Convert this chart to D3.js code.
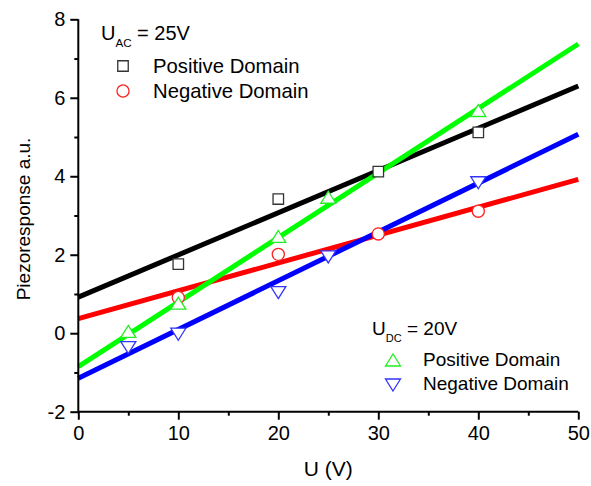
<!DOCTYPE html>
<html><head><meta charset="utf-8">
<script src="https://cdnjs.cloudflare.com/ajax/libs/d3/7.8.5/d3.min.js"></script>
<style>body{margin:0;background:#fff}svg{display:block;font-family:Arial,"Liberation Sans",sans-serif}</style>
</head><body><svg id="c" width="591" height="486"></svg>
<script>
// Data
const xTicks = [0, 10, 20, 30, 40, 50];
const yTicks = [-2, 0, 2, 4, 6, 8];
const acPosX = [10, 20, 30, 40];
const acPosY = [1.76, 3.42, 4.12, 5.12];
const acNegX = [10, 20, 30, 40];
const acNegY = [0.91, 2.01, 2.53, 3.11];
const dcPosX = [5, 10, 20, 25, 40];
const dcPosY = [0.02, 0.74, 2.44, 3.44, 5.65];
const dcNegX = [5, 10, 20, 25, 40];
const dcNegY = [-0.34, 0.0, 1.06, 1.97, 3.86];
// linear fit lines: intercept, slope
const fitIntercepts = [0.92, 0.37, -0.85, -1.15];
const fitSlopes = [0.1076, 0.071, 0.1644, 0.1244];
const seriesNames = ["AC positive", "AC negative", "DC positive", "DC negative"];
const colors = ["#000000", "#ff0000", "#00ff00", "#0000ff"];
const markerStroke = ["#333333", "#ff2020", "#22ee22", "#3333ff"];

const svg = d3.select("#c");
const x = d3.scaleLinear().domain([0, 50]).range([78.3, 578.3]);
const y = d3.scaleLinear().domain([-2, 8]).range([411.7, 19.3]);

// fit lines
const lineGen = d3.line().x(d => x(d[0])).y(d => y(d[1]));
fitIntercepts.forEach((b, i) => {
  const pts = [0, 50].map(u => [u, b + fitSlopes[i] * u]);
  svg.append("path").attr("d", lineGen(pts)).attr("fill", "none")
    .attr("stroke", colors[i]).attr("stroke-width", 5);
});

// markers
const symSquare = d3.symbol().type(d3.symbolSquare).size(110)();
const symCircle = d3.symbol().type(d3.symbolCircle).size(115)();
const triUp = "M0,-7L7.5,5L-7.5,5Z";
const triDown = "M0,7L7.5,-5L-7.5,-5Z";
const sets = [[acPosX, acPosY, symSquare], [acNegX, acNegY, symCircle], [dcPosX, dcPosY, triUp], [dcNegX, dcNegY, triDown]];
sets.forEach((s, i) => {
  svg.append("g").selectAll("path").data(s[0].map((v, k) => [v, s[1][k]])).join("path")
    .attr("d", s[2]).attr("transform", d => `translate(${x(d[0])},${y(d[1])})`)
    .attr("fill", "#fff").attr("stroke", markerStroke[i]).attr("stroke-width", 1.3);
});

// axes
const fmt = d => String(d);
const xAxis = d3.axisBottom(x).tickValues(xTicks).tickSize(8).tickPadding(6).tickFormat(fmt);
const gx = svg.append("g").attr("transform", `translate(0,${y(-2)})`).call(xAxis);
svg.append("g").attr("transform", `translate(0,${y(-2)})`)
  .call(d3.axisBottom(x).tickValues(d3.range(5, 50, 10)).tickSize(4).tickFormat(""))
  .call(g => g.select(".domain").remove());
const yAxis = d3.axisLeft(y).tickValues(yTicks).tickSize(8).tickPadding(5).tickFormat(fmt);
const gy = svg.append("g").attr("transform", `translate(${x(0)},0)`).call(yAxis);
svg.append("g").attr("transform", `translate(${x(0)},0)`)
  .call(d3.axisLeft(y).tickValues(d3.range(-1, 8, 2)).tickSize(4).tickFormat(""))
  .call(g => g.select(".domain").remove());
svg.selectAll(".domain, .tick line").attr("stroke", "#000").attr("stroke-width", 2);
gx.select(".domain").attr("d", `M${x(0)},0H${x(50)}`);
gy.select(".domain").attr("d", `M0,${y(-2)}V${y(8)}`);
svg.selectAll(".tick text").attr("font-size", 20).attr("fill", "#000").attr("font-family", "Arial, 'Liberation Sans', sans-serif");

// axis titles
svg.append("text").attr("x", x(25)).attr("y", 476).attr("text-anchor", "middle")
  .attr("font-size", 21).text("U (V)");
svg.append("text").attr("transform", `translate(30,219) rotate(-90)`).attr("text-anchor", "middle")
  .attr("font-size", 19).text("Piezoresponse a.u.");

// legends
function legendTitle(tx, ty, fs, sub, rest) {
  const t = svg.append("text").attr("x", tx).attr("y", ty).attr("font-size", fs);
  t.append("tspan").text("U");
  t.append("tspan").attr("font-size", fs * 0.58).attr("dy", 7).text(sub);
  t.append("tspan").attr("dy", -7).text(rest);
}
legendTitle(101, 40, 20, "AC", " = 25V");
legendTitle(372, 335, 19, "DC", " = 20V");
const legItems = [
  [123, 66, symSquare, 0, "Positive Domain", 20.3, 72.5],
  [123, 91, symCircle, 1, "Negative Domain", 20.3, 98],
  [393, 361, triUp, 2, "Positive Domain", 19, 366],
  [393, 384, triDown, 3, "Negative Domain", 19, 390]
];
legItems.forEach(l => {
  svg.append("path").attr("d", l[2]).attr("transform", `translate(${l[0]},${l[1]})`)
    .attr("fill", "#fff").attr("stroke", markerStroke[l[3]]).attr("stroke-width", 1.3);
  svg.append("text").attr("x", l[0] + 30).attr("y", l[6]).attr("font-size", l[5]).text(l[4]);
});
</script></body></html>
